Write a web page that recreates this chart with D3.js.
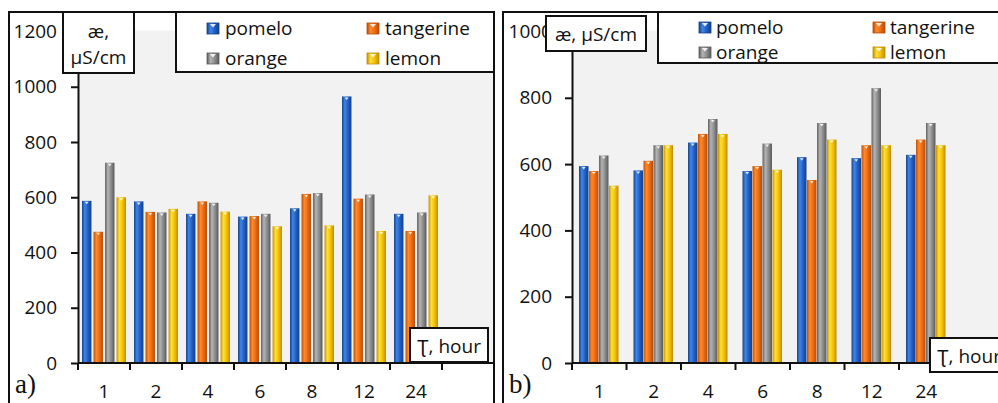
<!DOCTYPE html>
<meta charset="utf-8">
<style>
body { margin: 0; background: #fff; }
text { font-family: "Open Sans", sans-serif; font-size: 19px; fill: #111; }
.frame { fill: none; stroke: #111; stroke-width: 2px; }
.box { fill: #fff; stroke: #111; stroke-width: 2px; }
.axis path, .axis line { stroke: #111; stroke-width: 2px; }
.axis text { font-family: "Open Sans", sans-serif; font-size: 19px; fill: #111; }
.tag { font-family: "Liberation Serif", "DejaVu Serif", serif; font-size: 27px; }
</style>
<svg width="998" height="403"></svg>
<script src="https://d3js.org/d3.v7.min.js"></script>
<script>

var hours = ["1", "2", "4", "6", "8", "12", "24"];
var series = ["pomelo", "tangerine", "orange", "lemon"];

// panel a) values
var aPomelo    = [587, 585, 540, 530, 560, 965, 540];
var aTangerine = [475, 547, 585, 532, 612, 595, 478];
var aOrange    = [725, 545, 580, 540, 615, 610, 545];
var aLemon     = [600, 558, 548, 495, 498, 478, 607];
var aTicks     = [0, 200, 400, 600, 800, 1000, 1200];

// panel b) values
var bPomelo    = [594, 581, 665, 579, 621, 618, 628];
var bTangerine = [579, 610, 691, 594, 552, 657, 674];
var bOrange    = [626, 657, 736, 662, 724, 829, 724];
var bLemon     = [535, 657, 691, 583, 674, 657, 657];
var bTicks     = [0, 200, 400, 600, 800, 1000];

var colors = {
  pomelo:    ["#17428c", "#3f86e6", "#1f5cc4", "#163f87"],
  tangerine: ["#b9500a", "#ff8a2e", "#ec6a10", "#b54c08"],
  orange:    ["#5f5f5f", "#b4b4b4", "#8a8a8a", "#5a5a5a"],
  lemon:     ["#c79400", "#ffdf3a", "#f4bf00", "#c28c00"]
};

var svg = d3.select("svg");
var defs = svg.append("defs");

series.forEach(function(s) {
  var g = defs.append("linearGradient").attr("id", "grad-" + s)
      .attr("x1", "0%").attr("x2", "100%").attr("y1", "0%").attr("y2", "0%");
  var c = colors[s];
  g.append("stop").attr("offset", "0%").attr("stop-color", c[0]);
  g.append("stop").attr("offset", "30%").attr("stop-color", c[1]);
  g.append("stop").attr("offset", "65%").attr("stop-color", c[2]);
  g.append("stop").attr("offset", "100%").attr("stop-color", c[3]);
});

function drawPanel(p) {
  var g = svg.append("g");

  var x = d3.scaleBand().domain(hours).range([p.x0, p.x1]);
  var xs = d3.scaleBand().domain(series).range([p.inL, x.bandwidth() - p.inR]).paddingInner(p.gap);
  var y = d3.scaleLinear().domain([0, p.max]).range([363, 31.5]);

  // plot background
  g.append("rect")
      .attr("x", p.x0).attr("y", y(p.max) - 1)
      .attr("width", p.right - p.x0).attr("height", y(0) - y(p.max) + 1)
      .attr("fill", "#f2f2f2");

  var rows = hours.map(function(h, i) {
    return series.map(function(s) { return {h: h, s: s, v: p.values[s][i]}; });
  });

  var bars = g.append("g").selectAll("g")
    .data(d3.merge(rows))
    .enter().append("g");

  bars.append("rect")
      .attr("x", function(d) { return x(d.h) + xs(d.s); })
      .attr("y", function(d) { return y(d.v); })
      .attr("width", xs.bandwidth())
      .attr("height", function(d) { return y(0) - y(d.v); })
      .attr("fill", function(d) { return "url(#grad-" + d.s + ")"; });

  // little bevelled caps on top of each bar
  bars.append("path")
      .attr("d", function(d) {
        var bx = x(d.h) + xs(d.s), w = xs.bandwidth(), by = y(d.v);
        return "M" + (bx + w * 0.3) + "," + (by + 1) + "L" + (bx + w * 0.7) + "," + (by + 1) +
               "L" + (bx + w / 2) + "," + (by + 3.5) + "Z";
      })
      .attr("fill", "#fff").attr("opacity", 0.85);

  // y axis
  g.append("g").attr("class", "axis")
      .attr("transform", "translate(" + p.x0 + ",0)")
      .call(d3.axisLeft(y).tickValues(p.ticks).tickFormat(d3.format("d"))
        .tickSize(7).tickSizeOuter(0).tickPadding(p.labPad));

  // x axis: labels centred, ticks on band boundaries
  var xa = g.append("g").attr("class", "axis")
      .attr("transform", "translate(0," + y(0) + ")")
      .call(d3.axisBottom(x).tickSize(0).tickPadding(21.5));
  xa.select(".domain").remove();
  xa.append("line").attr("x1", p.x0).attr("x2", p.right).attr("y1", 0).attr("y2", 0);
  xa.selectAll(".bt")
    .data(hours.map(function(h) { return x(h); }).concat([p.x1]))
    .enter().append("line")
      .attr("x1", function(d) { return d; }).attr("x2", function(d) { return d; })
      .attr("y1", 0).attr("y2", 7);

  // frame
  g.append("path").attr("class", "frame")
      .attr("d", "M" + p.fl + ",410V" + 12 + "H" + p.fr + (p.closeRight ? "V410" : ""));

  // unit box
  g.append("rect").attr("class", "box")
      .attr("x", p.unit.x).attr("y", p.unit.y).attr("width", p.unit.w).attr("height", p.unit.h);
  p.unit.lines.forEach(function(t, i) {
    g.append("text").attr("x", p.unit.x + p.unit.w / 2).attr("y", p.unit.base[i])
        .attr("text-anchor", "middle").text(t);
  });

  // legend
  g.append("rect").attr("class", "box")
      .attr("x", p.leg.x).attr("y", 12).attr("width", p.leg.w).attr("height", p.leg.h);
  series.forEach(function(s, i) {
    var lx = p.leg.cols[i % 2], ly = p.leg.rows[Math.floor(i / 2)];
    g.append("rect").attr("x", lx).attr("y", ly - 11).attr("width", 12).attr("height", 11)
        .attr("fill", "url(#grad-" + s + ")").attr("stroke", colors[s][3]).attr("stroke-width", 0.8);
    g.append("path")
        .attr("d", "M" + (lx + 3) + "," + (ly - 10) + "L" + (lx + 9) + "," + (ly - 10) + "L" + (lx + 6) + "," + (ly - 6.5) + "Z")
        .attr("fill", "#fff").attr("opacity", 0.85);
    g.append("text").attr("x", lx + p.leg.tx).attr("y", ly + 1).text(s);
  });

  // time box
  g.append("rect").attr("class", "box")
      .attr("x", p.time.x).attr("y", p.time.y).attr("width", p.time.w).attr("height", 34);
  g.append("text").attr("x", p.time.x + 7).attr("y", p.time.y + 25).text("\u01AE, hour");

  g.append("text").attr("class", "tag").attr("x", p.tagX).attr("y", 393).text(p.tag);
}

drawPanel({
  x0: 78, x1: 442, right: 494, max: 1200, ticks: aTicks, labPad: 14,
  inL: 4, inR: 4, gap: 0.18,
  values: {pomelo: aPomelo, tangerine: aTangerine, orange: aOrange, lemon: aLemon},
  fl: 9, fr: 494, closeRight: true,
  unit: {x: 63, y: 12, w: 71, h: 61, lines: ["\u00E6,", "\u00B5S/cm"], base: [38, 64]},
  leg: {x: 176, w: 318, h: 60, cols: [207, 367], rows: [34, 64], tx: 18},
  time: {x: 410, y: 328, w: 78},
  tag: "a)", tagX: 15
});

drawPanel({
  x0: 572, x1: 953.5, right: 998, max: 1000, ticks: bTicks, labPad: 13,
  inL: 7, inR: 8, gap: 0.05,
  values: {pomelo: bPomelo, tangerine: bTangerine, orange: bOrange, lemon: bLemon},
  fl: 503, fr: 1000, closeRight: false,
  unit: {x: 546, y: 16, w: 100, h: 35, lines: ["\u00E6, \u00B5S/cm"], base: [41]},
  leg: {x: 658, w: 345, h: 51, cols: [699, 873], rows: [33, 58], tx: 17},
  time: {x: 930, y: 338, w: 80},
  tag: "b)", tagX: 509
});

</script>
